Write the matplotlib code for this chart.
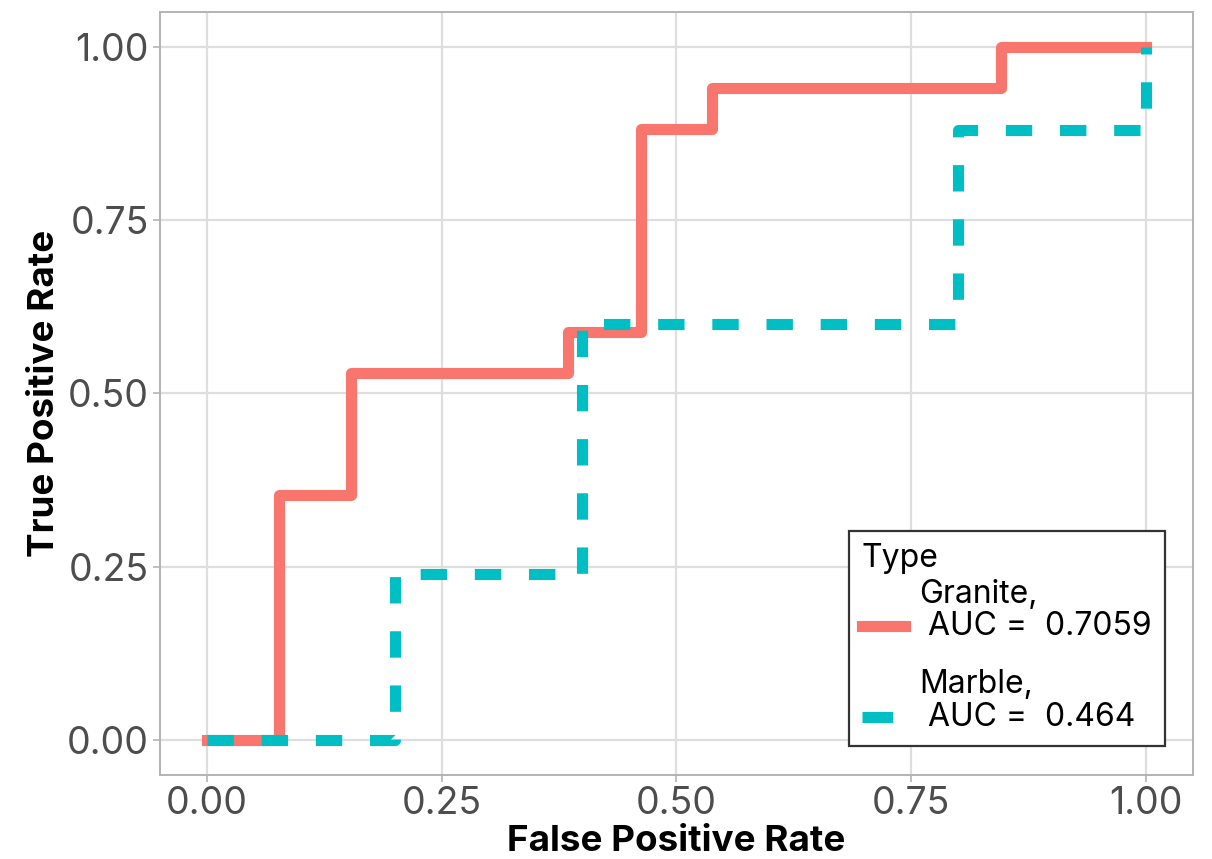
import matplotlib.pyplot as plt
from matplotlib.lines import Line2D
from matplotlib.legend_handler import HandlerLine2D

# datos de las curvas ROC (puntos de cada escalon)
granite_fpr = [0.0, 0.077, 0.154, 0.385, 0.462, 0.538, 0.846, 1.0]
granite_tpr = [0.0, 0.353, 0.529, 0.588, 0.882, 0.941, 1.0, 1.0]
marble_fpr = [0.0, 0.2, 0.4, 0.8, 1.0]
marble_tpr = [0.0, 0.24, 0.6, 0.88, 1.0]
labels = ["Granite,\n AUC =  0.7059", "Marble,\n AUC =  0.464"]
ticks = [0.0, 0.25, 0.5, 0.75, 1.0]
tick_labels = ["0.00", "0.25", "0.50", "0.75", "1.00"]

plt.rcParams['font.family'] = ['Inter', 'DejaVu Sans']
plt.rcParams['lines.scale_dashes'] = False

red = '#F8766D'
cyan = '#00BFC4'


# la clave de la leyenda va un poco mas abajo, junto a la segunda linea
class HandlerAbajo(HandlerLine2D):
    def create_artists(self, legend, orig_handle, xdescent, ydescent,
                       width, height, fontsize, trans):
        return super().create_artists(legend, orig_handle, xdescent,
                                      ydescent + 22, width, height,
                                      fontsize, trans)


fig = plt.figure(figsize=(12.12, 8.59), dpi=100)
ax = fig.add_axes([0.132, 0.098, 0.852, 0.888])

ax.step(granite_fpr, granite_tpr, where='post', color=red, lw=8,
        solid_joinstyle='round', zorder=3)
ax.step(marble_fpr, marble_tpr, where='post', color=cyan, lw=8,
        dashes=(19, 20), dash_capstyle='butt', zorder=4)

ax.set_xlim(-0.05, 1.05)
ax.set_ylim(-0.05, 1.05)
ax.set_xticks(ticks)
ax.set_xticklabels(tick_labels)
ax.set_yticks(ticks)
ax.set_yticklabels(tick_labels)
ax.grid(True, color='#DEDEDE', lw=1.6)
ax.set_axisbelow(True)
for s in ax.spines.values():
    s.set_color('#B3B3B3')
    s.set_linewidth(1.4)
ax.tick_params(length=5, width=1.2, color='#B3B3B3', labelsize=27,
               labelcolor='#4D4D4D', pad=3)

ax.set_xlabel("False Positive Rate", fontsize=26.5, fontweight='bold', labelpad=2)
ax.set_ylabel("True Positive Rate", fontsize=26.5, fontweight='bold', labelpad=4)

handles = [Line2D([], [], color=red, lw=8),
           Line2D([], [], color=cyan, lw=8, dashes=(22, 30))]
leg = ax.legend(handles, labels, title="Type", loc='lower right',
                bbox_to_anchor=(0.973, 0.038), fontsize=23, title_fontsize=23,
                frameon=True, fancybox=False, handlelength=1.35,
                labelspacing=0.85, borderpad=0.4, handletextpad=0.45,
                borderaxespad=0,
                handler_map={Line2D: HandlerAbajo()})
leg._legend_box.align = 'left'
leg._legend_box.sep = 3
for t in leg.get_texts():
    t.set_linespacing(1.07)
leg.get_frame().set_edgecolor('#333333')
leg.get_frame().set_linewidth(1.6)
leg.get_frame().set_alpha(1)

fig.savefig('out.png', dpi=100)
